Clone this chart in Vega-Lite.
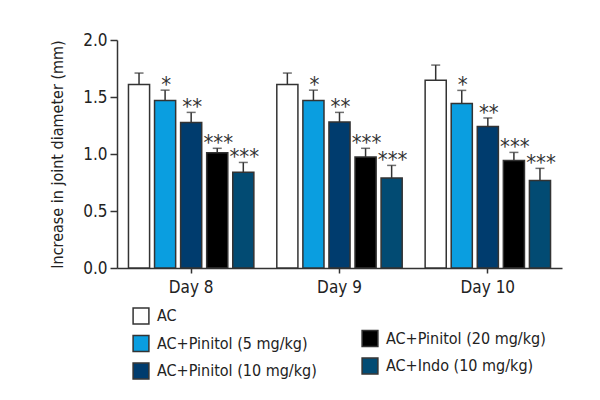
{
  "$schema": "https://vega.github.io/schema/vega-lite/v6.json",
  "autosize": {"type": "none"},
  "padding": {"left": 117, "top": 40, "right": 38, "bottom": 132},
  "width": 445,
  "height": 228,
  "background": "white",
  "config": {
    "view": {"stroke": null},
    "font": "'DejaVu Sans Condensed', Roboto, sans-serif",
    "axis": {"labelFont": "'DejaVu Sans Condensed', Roboto, sans-serif", "titleFont": "'DejaVu Sans Condensed', Roboto, sans-serif", "domainColor": "#333", "tickColor": "#333", "labelColor": "#222", "titleColor": "#222", "domainWidth": 1.5, "tickWidth": 1.5, "grid": false},
    "legend": {"labelFont": "'DejaVu Sans Condensed', Roboto, sans-serif", "labelColor": "#222", "labelLimit": 400}
  },
  "data": {"values": [
    {"day": "Day 8", "group": "AC", "value": 1.61, "err": 1.71, "sig": ""},
    {"day": "Day 8", "group": "AC+Pinitol (5 mg/kg)", "value": 1.47, "err": 1.56, "sig": "*"},
    {"day": "Day 8", "group": "AC+Pinitol (10 mg/kg)", "value": 1.277, "err": 1.365, "sig": "**"},
    {"day": "Day 8", "group": "AC+Pinitol (20 mg/kg)", "value": 1.01, "err": 1.05, "sig": "***"},
    {"day": "Day 8", "group": "AC+Indo (10 mg/kg)", "value": 0.84, "err": 0.926, "sig": "***"},
    {"day": "Day 9", "group": "AC", "value": 1.61, "err": 1.71, "sig": ""},
    {"day": "Day 9", "group": "AC+Pinitol (5 mg/kg)", "value": 1.47, "err": 1.56, "sig": "*"},
    {"day": "Day 9", "group": "AC+Pinitol (10 mg/kg)", "value": 1.28, "err": 1.365, "sig": "**"},
    {"day": "Day 9", "group": "AC+Pinitol (20 mg/kg)", "value": 0.974, "err": 1.05, "sig": "***"},
    {"day": "Day 9", "group": "AC+Indo (10 mg/kg)", "value": 0.79, "err": 0.90, "sig": "***"},
    {"day": "Day 10", "group": "AC", "value": 1.646, "err": 1.78, "sig": ""},
    {"day": "Day 10", "group": "AC+Pinitol (5 mg/kg)", "value": 1.444, "err": 1.558, "sig": "*"},
    {"day": "Day 10", "group": "AC+Pinitol (10 mg/kg)", "value": 1.242, "err": 1.316, "sig": "**"},
    {"day": "Day 10", "group": "AC+Pinitol (20 mg/kg)", "value": 0.944, "err": 1.014, "sig": "***"},
    {"day": "Day 10", "group": "AC+Indo (10 mg/kg)", "value": 0.768, "err": 0.874, "sig": "***"}
  ]},
  "encoding": {
    "x": {"field": "day", "type": "nominal", "sort": ["Day 8", "Day 9", "Day 10"],
      "scale": {"paddingInner": 0, "paddingOuter": 0},
      "axis": {"title": null, "labelAngle": 0, "labelFontSize": 17, "tickSize": 5, "labelPadding": 6, "domainColor": "#333"}},
    "xOffset": {"field": "group", "type": "nominal",
      "sort": ["AC", "AC+Pinitol (5 mg/kg)", "AC+Pinitol (10 mg/kg)", "AC+Pinitol (20 mg/kg)", "AC+Indo (10 mg/kg)"],
      "scale": {"domain": ["AC", "AC+Pinitol (5 mg/kg)", "AC+Pinitol (10 mg/kg)", "AC+Pinitol (20 mg/kg)", "AC+Indo (10 mg/kg)"], "paddingInner": 0.19, "paddingOuter": 0.44}}
  },
  "layer": [
    {
      "transform": [{"filter": "datum.group === 'AC' || datum.group === 'AC+Pinitol (5 mg/kg)' || datum.group === 'AC+Pinitol (10 mg/kg)'"}],
      "mark": {"type": "bar", "stroke": "#333", "strokeWidth": 1.5},
      "encoding": {
        "y": {"field": "value", "type": "quantitative",
          "scale": {"domain": [0, 2]},
          "axis": {"title": "Increase in joint diameter (mm)", "titleFontSize": 16, "titleFontWeight": "normal", "titlePadding": 17, "values": [0, 0.5, 1, 1.5, 2], "format": ".1f", "labelFontSize": 17, "tickSize": 7, "labelPadding": 3}},
        "fill": {"field": "group", "type": "nominal",
          "scale": {"domain": ["AC", "AC+Pinitol (5 mg/kg)", "AC+Pinitol (10 mg/kg)"], "range": ["#ffffff", "#0a9ee0", "#003c6e"]},
          "legend": {"title": null, "orient": "none", "legendX": 15, "legendY": 267, "symbolType": "square", "symbolSize": 250, "symbolStrokeColor": "#333", "symbolStrokeWidth": 1.5, "labelFontSize": 16, "labelLimit": 400, "rowPadding": 5.5, "labelOffset": 7}}
      }
    },
    {
      "transform": [{"filter": "datum.group === 'AC+Pinitol (20 mg/kg)' || datum.group === 'AC+Indo (10 mg/kg)'"}],
      "mark": {"type": "bar", "stroke": "#333", "strokeWidth": 1.5},
      "encoding": {
        "y": {"field": "value", "type": "quantitative"},
        "fill": {"field": "group", "type": "nominal",
          "scale": {"domain": ["AC+Pinitol (20 mg/kg)", "AC+Indo (10 mg/kg)"], "range": ["#000000", "#024b73"]},
          "legend": {"title": null, "orient": "none", "legendX": 244, "legendY": 289.5, "symbolType": "square", "symbolSize": 250, "symbolStrokeColor": "#333", "symbolStrokeWidth": 1.5, "labelFontSize": 16, "labelLimit": 400, "rowPadding": 5.5, "labelOffset": 7}}
      }
    },
    {
      "mark": {"type": "rule", "color": "#333", "strokeWidth": 1.5},
      "encoding": {
        "y": {"field": "value", "type": "quantitative"},
        "y2": {"field": "err"}
      }
    },
    {
      "mark": {"type": "tick", "color": "#333", "thickness": 1.5, "size": 9},
      "encoding": {
        "y": {"field": "err", "type": "quantitative"}
      }
    },
    {
      "transform": [{"filter": "datum.sig !== ''"}],
      "mark": {"type": "text", "baseline": "alphabetic", "align": "center", "dy": 2, "dx": 1, "fontSize": 22, "color": "#333", "font": "'DejaVu Sans Condensed', 'DejaVu Sans'"},
      "encoding": {
        "y": {"field": "err", "type": "quantitative"},
        "text": {"field": "sig"}
      }
    }
  ],
  "resolve": {"scale": {"fill": "independent"}, "legend": {"fill": "independent"}}
}
